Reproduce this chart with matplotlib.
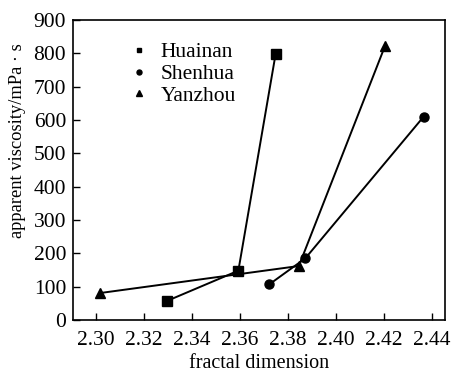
import matplotlib
matplotlib.use("Agg")
import matplotlib.pyplot as plt

plt.rcParams['font.family'] = ['Liberation Serif', 'DejaVu Serif']

huainan_x = [2.3295, 2.3593, 2.3748]
huainan_y = [57, 148, 797]
shenhua_x = [2.3722, 2.3872, 2.4365]
shenhua_y = [107, 185, 610]
yanzhou_x = [2.3018, 2.3845, 2.4204]
yanzhou_y = [81, 162, 822]

xticks = [2.30, 2.32, 2.34, 2.36, 2.38, 2.40, 2.42, 2.44]
yticks = [0, 100, 200, 300, 400, 500, 600, 700, 800, 900]

fig = plt.figure(figsize=(4.55, 3.72), dpi=100)
ax = fig.add_axes([73/455, 1 - 320/372, (445-73)/455, (320-20)/372])

ax.plot(huainan_x, huainan_y, '-', color='black', lw=1.4, marker='s', ms=6.5, label='Huainan')
ax.plot(shenhua_x, shenhua_y, '-', color='black', lw=1.4, marker='o', ms=6.5, label='Shenhua')
ax.plot(yanzhou_x, yanzhou_y, '-', color='black', lw=1.4, marker='^', ms=7.5, label='Yanzhou')

ax.set_xlim(2.2904, 2.4454)
ax.set_ylim(0, 900)
ax.set_xticks(xticks)
ax.set_xticklabels([f"{v:.2f}" for v in xticks])
ax.set_yticks(yticks)
ax.tick_params(direction='in', labelsize=15.5, length=5, width=1)
ax.tick_params(axis='x', pad=8)
ax.tick_params(axis='y', pad=5)
for s in ax.spines.values():
    s.set_linewidth(1.2)

ax.set_xlabel('fractal dimension', fontsize=14.5, labelpad=3)
ax.set_ylabel('apparent viscosity/mPa · s', fontsize=13.3)
ax.yaxis.set_label_coords(-47/372, (320-141)/300)

handles, labels = ax.get_legend_handles_labels()
leg = ax.legend(handles, labels, loc='upper left', bbox_to_anchor=(0.125, 0.99),
                frameon=False, fontsize=15.5, handlelength=0, markerscale=0.55,
                handletextpad=1.0, labelspacing=0.08)
for h in leg.legend_handles:
    h.set_linestyle('None')

fig.savefig('out.png', dpi=100)
